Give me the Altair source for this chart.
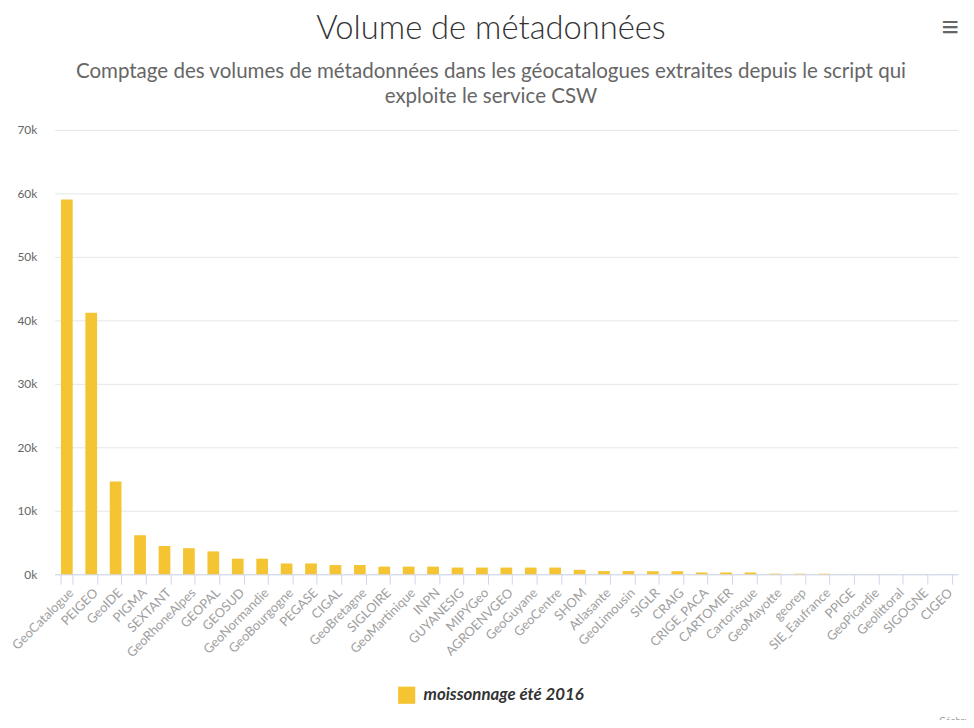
import altair as alt
import pandas as pd

categories = ["GeoCatalogue", "PEIGEO", "GeoIDE", "PIGMA", "SEXTANT", "GeoRhoneAlpes", "GEOPAL",
              "GEOSUD", "GeoNormandie", "GeoBourgogne", "PEGASE", "CIGAL", "GeoBretagne", "SIGLOIRE",
              "GeoMartinique", "INPN", "GUYANESIG", "MIPYGeo", "AGROENVGEO", "GeoGuyane", "GeoCentre",
              "SHOM", "Atlasante", "GeoLimousin", "SIGLR", "CRAIG", "CRIGE_PACA", "CARTOMER",
              "Cartorisque", "GeoMayotte", "georep", "SIE_Eaufrance", "PPIGE", "GeoPicardie",
              "Geolittoral", "SIGOGNE", "CIGEO"]
values = [59050, 41200, 14600, 6150, 4450, 4100, 3600,
          2450, 2450, 1700, 1700, 1450, 1450, 1200,
          1200, 1200, 1050, 1050, 1050, 1050, 1050,
          700, 500, 500, 480, 480, 280, 280,
          280, 90, 80, 80, 10, 8,
          6, 5, 4]
series_name = "moissonnage été 2016"
bar_color = "#F5C432"
y_ticks = [0, 10000, 20000, 30000, 40000, 50000, 60000, 70000]
title_text = "Volume de métadonnées"
subtitle_lines = ["Comptage des volumes de métadonnées dans les géocatalogues extraites depuis le script qui",
                  "exploite le service CSW"]
credit_text = "Géobretagne"

df = pd.DataFrame({"catalogue": categories, "volume": values, "serie": [series_name] * len(categories)})

FONT = "Lato"
W, H = 911, 448

bars = alt.Chart(df).mark_bar().encode(
    x=alt.X("catalogue:N", sort=None,
            scale=alt.Scale(paddingInner=0.52, paddingOuter=0.26),
            axis=alt.Axis(title=None, labelAngle=-45, labelColor="#a0a0a0", labelFontSize=13,
                          labelFont=FONT, domainColor="#ccd6eb", tickColor="#ccd6eb",
                          tickBand="extent", tickSize=10, labelPadding=2, grid=False)),
    y=alt.Y("volume:Q", scale=alt.Scale(domain=[0, 70000], nice=False),
            axis=alt.Axis(title=None, values=y_ticks, labelExpr="datum.value/1000 + 'k'",
                          labelColor="#666666", labelFontSize=12, labelFont=FONT,
                          domain=False, ticks=False, gridColor="#e6e6e6", labelPadding=18)),
    color=alt.Color("serie:N", scale=alt.Scale(range=[bar_color]),
                    legend=alt.Legend(title=None, orient="none", legendX=346, legendY=561,
                                      direction="horizontal", labelLimit=400,
                                      symbolType="square", symbolSize=300, symbolStrokeWidth=0,
                                      labelFontSize=17, labelFontStyle="italic", labelFontWeight="bold",
                                      labelColor="#333333", labelFont=FONT, labelOffset=8)),
)

title = alt.Chart(pd.DataFrame({"t": [title_text]})).mark_text(
    fontSize=33, fontWeight=300, color="#333333", align="center", baseline="alphabetic", font=FONT
).encode(text="t:N", x=alt.value(440), y=alt.value(-92))

sub1 = alt.Chart(pd.DataFrame({"t": [subtitle_lines[0]]})).mark_text(
    fontSize=20.7, color="#666666", align="center", baseline="alphabetic", font=FONT
).encode(text="t:N", x=alt.value(440), y=alt.value(-52))

sub2 = alt.Chart(pd.DataFrame({"t": [subtitle_lines[1]]})).mark_text(
    fontSize=20.7, color="#666666", align="center", baseline="alphabetic", font=FONT
).encode(text="t:N", x=alt.value(440), y=alt.value(-27))

menu = alt.Chart(pd.DataFrame({"t": ["≡"]})).mark_text(
    fontSize=30, color="#666666", align="center", baseline="middle"
).encode(text="t:N", x=alt.value(903), y=alt.value(-103))

credit = alt.Chart(pd.DataFrame({"t": [credit_text]})).mark_text(
    fontSize=9, color="#999999", align="left", baseline="alphabetic", font=FONT
).encode(text="t:N", x=alt.value(892), y=alt.value(599))

chart = alt.layer(bars, title, sub1, sub2, menu, credit).properties(
    width=W, height=H,
    autosize=alt.AutoSizeParams(type="none"),
    padding={"left": 47, "top": 120, "right": 8, "bottom": 144},
).configure_view(stroke=None)

chart.save("out.html", embed_options={"renderer": "svg", "actions": False})
